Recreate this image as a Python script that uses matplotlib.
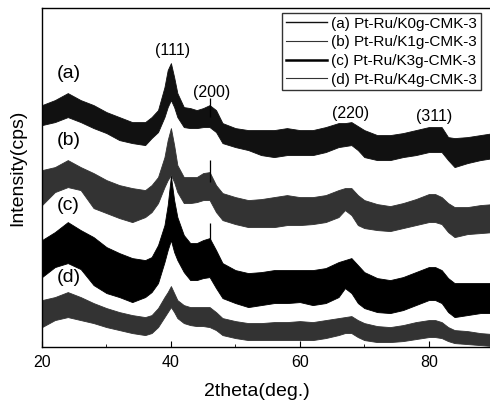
import numpy as np
from matplotlib import pyplot as plt
from matplotlib.lines import Line2D

plt.rcParams['font.family'] = ['Liberation Sans', 'DejaVu Sans']

two_theta = [20, 22, 24, 26, 28, 30, 32, 34, 36, 37, 38, 39, 39.5, 40, 40.5, 41,
             42, 43, 44, 45, 46, 47, 48, 50, 52, 54, 56, 58, 60, 62, 64, 66,
             67, 68, 69, 70, 72, 74, 76, 78, 80, 81, 82, 83, 84, 86, 88, 90]

# upper / lower edge of each noisy trace (arbitrary intensity units)
a_hi = [242, 247, 254, 247, 242, 235, 230, 225, 225, 230, 237, 260, 277, 284, 270, 254,
        240, 239, 237, 239, 242, 237, 224, 219, 217, 217, 217, 219, 217, 217, 220, 224,
        224, 225, 221, 217, 212, 212, 214, 217, 220, 220, 220, 210, 209, 210, 212, 214]
a_lo = [222, 225, 230, 225, 219, 214, 207, 204, 202, 209, 215, 230, 240, 247, 240, 230,
        220, 219, 219, 220, 220, 215, 204, 200, 197, 192, 190, 192, 192, 192, 195, 200,
        201, 202, 197, 190, 187, 187, 190, 192, 195, 195, 195, 187, 180, 184, 187, 189]
b_hi = [177, 180, 187, 180, 174, 167, 162, 159, 157, 162, 170, 190, 207, 219, 202, 182,
        170, 170, 170, 174, 175, 162, 154, 150, 147, 148, 150, 152, 150, 150, 152, 157,
        159, 159, 152, 147, 143, 141, 144, 148, 153, 153, 150, 144, 140, 140, 142, 143]
b_lo = [142, 155, 160, 157, 139, 134, 129, 125, 130, 135, 144, 160, 167, 172, 165, 155,
        144, 144, 145, 147, 147, 135, 127, 123, 120, 120, 120, 122, 122, 123, 125, 130,
        137, 132, 122, 119, 117, 116, 119, 122, 125, 125, 123, 115, 110, 113, 114, 115]
c_hi = [107, 115, 125, 117, 110, 100, 94, 89, 87, 90, 102, 122, 142, 171, 147, 130,
        112, 104, 104, 107, 109, 97, 84, 77, 74, 75, 77, 77, 77, 77, 79, 85,
        87, 89, 82, 75, 69, 67, 70, 75, 80, 80, 77, 69, 64, 64, 64, 64]
c_lo = [70, 80, 84, 78, 62, 54, 50, 45, 50, 55, 64, 85, 97, 107, 95, 87,
        75, 67, 67, 69, 70, 59, 49, 44, 40, 42, 44, 44, 45, 42, 44, 50,
        59, 54, 44, 39, 35, 34, 37, 42, 47, 47, 44, 35, 30, 32, 34, 34]
d_hi = [47, 50, 55, 50, 44, 39, 35, 32, 30, 32, 39, 50, 55, 61, 54, 47,
        42, 40, 40, 40, 40, 35, 29, 26, 24, 24, 25, 25, 26, 25, 27, 29,
        30, 31, 27, 24, 21, 20, 22, 25, 27, 27, 25, 20, 17, 16, 14, 13]
d_lo = [20, 27, 30, 27, 24, 20, 17, 14, 12, 14, 20, 30, 35, 40, 35, 29,
        24, 22, 21, 21, 20, 17, 12, 9, 7, 7, 7, 7, 7, 7, 9, 12,
        14, 14, 10, 7, 5, 5, 6, 8, 10, 10, 9, 6, 4, 3, 2, 1]

# isolated spikes that stick out of the bands near (200)
spike_x = [46, 46, 46]
spike_top = [249, 187, 124]
spike_base = [230, 165, 95]

names = ["(a) Pt-Ru/K0g-CMK-3", "(b) Pt-Ru/K1g-CMK-3",
         "(c) Pt-Ru/K3g-CMK-3", "(d) Pt-Ru/K4g-CMK-3"]
colors = ['#111111', '#333333', '#000000', '#333333']
widths = [1.0, 0.8, 1.8, 0.8]

# reflection labels
hkl = ["(111)", "(200)", "(220)", "(311)"]
hkl_x = [40.3, 46.3, 67.9, 80.9]
hkl_y = [297, 255, 234, 231]

tag = ["(a)", "(b)", "(c)", "(d)"]
tag_y = [274, 207, 142, 70]

fig = plt.figure(figsize=(4.9, 4.05), dpi=100)
ax = fig.add_axes([0.0857, 0.143, 0.9143, 0.837])

bands = [(a_lo, a_hi), (b_lo, b_hi), (c_lo, c_hi), (d_lo, d_hi)]
for i, (lo, hi) in enumerate(bands):
    ax.fill_between(two_theta, lo, hi, color=colors[i], linewidth=0.6, edgecolor=colors[i])

ax.vlines(spike_x, spike_base, spike_top, color='black', linewidth=0.9)

for i in range(4):
    ax.text(hkl_x[i], hkl_y[i], hkl[i], fontsize=11.5, ha='center', va='center')
    ax.text(24.1, tag_y[i], tag[i], fontsize=14, ha='center', va='center')

ax.set_xlim(20, 89.5)
ax.set_ylim(0, 339)
ax.set_xticks([20, 40, 60, 80])
ax.set_xticks([30, 50, 70], minor=True)
ax.set_yticks([])
ax.tick_params(axis='x', direction='in', length=4, labelsize=11.5, pad=6)
ax.tick_params(axis='x', which='minor', direction='in', length=2.5)
ax.spines['right'].set_visible(False)
for s in ['left', 'bottom', 'top']:
    ax.spines[s].set_linewidth(1.0)

ax.set_xlabel('2theta(deg.)', fontsize=14)
ax.xaxis.set_label_coords(0.48, -0.105)
ax.set_ylabel('Intensity(cps)', fontsize=14)
ax.yaxis.set_label_coords(-0.036, 0.53)

handles = [Line2D([], [], color=colors[i], linewidth=widths[i]) for i in range(4)]
leg = ax.legend(handles, names, loc='upper right', bbox_to_anchor=(0.982, 0.968),
                bbox_transform=fig.transFigure, borderaxespad=0, fontsize=11,
                frameon=True, fancybox=False, handlelength=2.7, handletextpad=0.3,
                labelspacing=0.3, borderpad=0.25)
leg.get_frame().set_edgecolor('black')
leg.get_frame().set_linewidth(1.0)

plt.savefig('out.png', dpi=100)
plt.close()
